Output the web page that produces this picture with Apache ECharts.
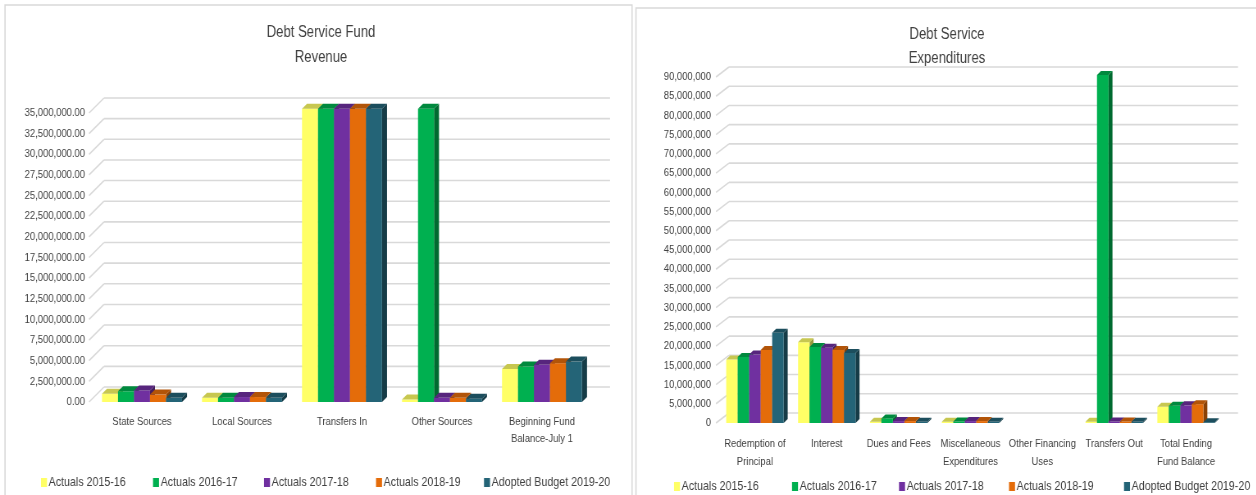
<!DOCTYPE html>
<html><head><meta charset="utf-8">
<script src="https://cdn.jsdelivr.net/npm/echarts@6/dist/echarts.min.js"></script>
<style>html,body{margin:0;padding:0;background:#fff;overflow:hidden}
#wrap{width:1256px;height:495px;overflow:hidden;position:relative}
#c{width:1532px;height:495px;transform:scaleX(0.82);transform-origin:0 0;position:absolute;left:0;top:0}</style>
</head><body><div id="wrap"><div id="c"></div></div><script>
// ---------- data ----------
const seriesNames = ['Actuals 2015-16', 'Actuals 2016-17', 'Actuals 2017-18', 'Actuals 2018-19', 'Adopted Budget 2019-20'];

const revCategories = ['State Sources', 'Local Sources', 'Transfers In', 'Other Sources', 'Beginning Fund\nBalance-July 1'];
const rev2015 = [1000000, 500000, 35500000, 300000, 4000000];
const rev2016 = [1300000, 500000, 35500000, 35500000, 4300000];
const rev2017 = [1400000, 600000, 35500000, 500000, 4500000];
const rev2018 = [900000, 600000, 35500000, 500000, 4700000];
const rev2019 = [500000, 500000, 35500000, 400000, 4900000];
const revTicks = [0, 2500000, 5000000, 7500000, 10000000, 12500000, 15000000, 17500000, 20000000, 22500000, 25000000, 27500000, 30000000, 32500000, 35000000];

const expCategories = ['Redemption of\nPrincipal', 'Interest', 'Dues and Fees', 'Miscellaneous\nExpenditures', 'Other Financing\nUses', 'Transfers Out', 'Total Ending\nFund Balance'];
const exp2015 = [16500000, 21000000, 300000, 300000, 0, 300000, 4200000];
const exp2016 = [17200000, 19800000, 1200000, 400000, 0, 90500000, 4500000];
const exp2017 = [17800000, 19600000, 500000, 500000, 0, 400000, 4600000];
const exp2018 = [19000000, 19000000, 500000, 500000, 0, 400000, 4900000];
const exp2019 = [23500000, 18200000, 300000, 300000, 0, 300000, 200000];
const expTicks = [0, 5000000, 10000000, 15000000, 20000000, 25000000, 30000000, 35000000, 40000000, 45000000, 50000000, 55000000, 60000000, 65000000, 70000000, 75000000, 80000000, 85000000, 90000000];

const colors = ['#FFFF66', '#00B050', '#7030A0', '#E46C0A', '#246477'];
// ---------- helpers ----------
const S = 0.82;               // horizontal condensing (narrow font look)
const X = px => px / S;       // convert target page x to chart x
const FONT = '"Liberation Sans",Arial,sans-serif';
const TXT = '#404040';
function shade(hex, f) {
  const n = parseInt(hex.slice(1), 16);
  const r = Math.round(((n >> 16) & 255) * f), g = Math.round(((n >> 8) & 255) * f), b = Math.round((n & 255) * f);
  return 'rgb(' + r + ',' + g + ',' + b + ')';
}
function fmt(v, dec) {
  const s = Math.round(v).toString().replace(/\B(?=(\d{3})+(?!\d))/g, ',');
  return dec ? s + '.00' : s;
}
function barRender(si, ddx, ddy) {
  return function (params, api) {
    const ci = api.value(0), v = api.value(1);
    if (!(v > 0)) return null;
    const base = api.coord([ci, 0]);
    const top = api.coord([ci, v]);
    const band = api.size([1, 0])[0];
    const gw = band * 0.8, w = gw / 5;
    const x0 = base[0] - gw / 2 + si * w, x1 = x0 + w;
    const yb = base[1], yt = top[1];
    const c = colors[si];
    return {
      type: 'group', children: [
        { type: 'polygon', shape: { points: [[x1, yt], [x1 + ddx, yt - ddy], [x1 + ddx, yb - ddy], [x1, yb]] }, style: { fill: shade(c, 0.6) } },
        { type: 'rect', shape: { x: x0, y: yt, width: w, height: yb - yt }, style: { fill: c } },
        { type: 'polygon', shape: { points: [[x0, yt], [x0 + ddx, yt - ddy], [x1 + ddx, yt - ddy], [x1, yt]] }, style: { fill: shade(c, 0.78) } }
      ]
    };
  };
}
function gridRender(DX, DY) {
  return function (params, api) {
    const cs = params.coordSys;
    const y = api.coord([0, api.value(1)])[1];
    return {
      type: 'group', children: [
        { type: 'line', shape: { x1: cs.x - X(3), y1: y, x2: cs.x + DX, y2: y - DY }, style: { stroke: '#D9D9D9', lineWidth: 1.6 } },
        { type: 'line', shape: { x1: cs.x + DX, y1: y - DY, x2: cs.x + cs.width + DX + X(6), y2: y - DY }, style: { stroke: '#D9D9D9', lineWidth: 1.6 } }
      ]
    };
  };
}
const revData = [rev2015, rev2016, rev2017, rev2018, rev2019];
const expData = [exp2015, exp2016, exp2017, exp2018, exp2019];

const series = [];
series.push({ type: 'custom', xAxisIndex: 0, yAxisIndex: 0, z: 1, silent: true, renderItem: gridRender(X(12), 15), data: revTicks.map(t => [0, t]) });
series.push({ type: 'custom', xAxisIndex: 1, yAxisIndex: 1, z: 1, silent: true, renderItem: gridRender(X(10), 10), data: expTicks.map(t => [0, t]) });
seriesNames.forEach((name, si) => {
  series.push({ name, type: 'custom', xAxisIndex: 0, yAxisIndex: 0, z: 2, itemStyle: { color: colors[si] }, renderItem: barRender(si, X(5), 5), data: revData[si].map((v, i) => [i, v]) });
  series.push({ name, type: 'custom', xAxisIndex: 1, yAxisIndex: 1, z: 2, itemStyle: { color: colors[si] }, renderItem: barRender(si, X(4), 4), data: expData[si].map((v, i) => [i, v]) });
});

const legendLeftX = [41, 153, 264, 376, 484];
const legendRightX = [674, 792, 899, 1009, 1124];
const legends = [];
seriesNames.forEach((name, si) => {
  [[legendLeftX[si], 476], [legendRightX[si], 480]].forEach(p => legends.push({
    data: [name], left: X(p[0]), top: p[1], padding: 0, itemGap: 0, icon: 'rect', itemWidth: X(6), itemHeight: 9,
    selectedMode: false, textStyle: { fontFamily: FONT, fontSize: 13, color: TXT, padding: [0, 0, 0, -3] }
  }));
});

const catAxisBase = { type: 'category', axisLine: { show: false }, axisTick: { show: false }, splitLine: { show: false } };
const option = {
  animation: false,
  graphic: [
    { type: 'rect', shape: { x: X(5), y: 5, width: X(627), height: 500 }, style: { fill: 'none', stroke: '#D9D9D9', lineWidth: 1.6 } },
    { type: 'rect', shape: { x: X(636), y: 8, width: X(630), height: 500 }, style: { fill: 'none', stroke: '#D9D9D9', lineWidth: 1.6 } },
    { type: 'text', x: X(321), y: 33, style: { text: 'Debt Service Fund', align: 'center', verticalAlign: 'middle', fontSize: 16, fontFamily: FONT, fill: TXT } },
    { type: 'text', x: X(321), y: 58, style: { text: 'Revenue', align: 'center', verticalAlign: 'middle', fontSize: 16, fontFamily: FONT, fill: TXT } },
    { type: 'text', x: X(947), y: 35, style: { text: 'Debt Service', align: 'center', verticalAlign: 'middle', fontSize: 16, fontFamily: FONT, fill: TXT } },
    { type: 'text', x: X(947), y: 59, style: { text: 'Expenditures', align: 'center', verticalAlign: 'middle', fontSize: 16, fontFamily: FONT, fill: TXT } }
  ],
  legend: legends,
  grid: [
    { left: X(92), width: X(500), top: 113, height: 289 },
    { left: X(719), width: X(503), top: 77, height: 346 }
  ],
  xAxis: [
    Object.assign({ gridIndex: 0, data: revCategories, axisLabel: { margin: 11, fontFamily: FONT, fontSize: 11.5, color: TXT, lineHeight: 17, interval: 0 } }, catAxisBase),
    Object.assign({ gridIndex: 1, data: expCategories, axisLabel: { margin: 12, fontFamily: FONT, fontSize: 11.5, color: TXT, lineHeight: 18, interval: 0 } }, catAxisBase)
  ],
  yAxis: [
    { type: 'value', gridIndex: 0, min: 0, max: 35000000, interval: 2500000, splitLine: { show: false }, axisLine: { show: false }, axisTick: { show: false },
      axisLabel: { margin: X(7), fontFamily: FONT, fontSize: 11.5, color: TXT, formatter: v => fmt(v, true) } },
    { type: 'value', gridIndex: 1, min: 0, max: 90000000, interval: 5000000, splitLine: { show: false }, axisLine: { show: false }, axisTick: { show: false },
      axisLabel: { margin: X(8), fontFamily: FONT, fontSize: 11.5, color: TXT, formatter: v => fmt(v, false) } }
  ],
  series
};
const chart = echarts.init(document.getElementById('c'), null, { renderer: 'canvas' });
chart.setOption(option);
</script></body></html>
